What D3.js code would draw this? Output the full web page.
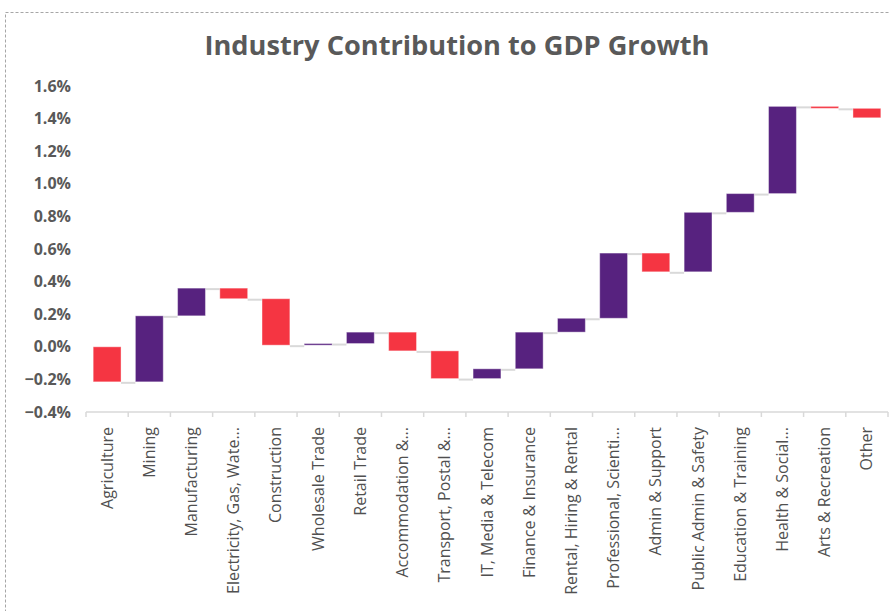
<!DOCTYPE html>
<html>
<head>
<meta charset="utf-8">
<script src="https://cdn.jsdelivr.net/npm/d3@7"></script>
<style>
  body { margin: 0; background: #fff; }
  svg { display: block; font-family: "Open Sans", sans-serif; }
</style>
</head>
<body>
<div id="chart"></div>
<script>
// industries in order of the waterfall
const industries = [
  "Agriculture", "Mining", "Manufacturing", "Electricity, Gas, Wate...",
  "Construction", "Wholesale Trade", "Retail Trade", "Accommodation &...",
  "Transport, Postal &...", "IT, Media & Telecom", "Finance & Insurance",
  "Rental, Hiring & Rental", "Professional, Scienti...", "Admin & Support",
  "Public Admin & Safety", "Education & Training", "Health & Social...",
  "Arts & Recreation", "Other"
];
// contribution of each industry, percentage points
const contributions = [
  -0.215, 0.405, 0.17, -0.065, -0.285, 0.01, 0.07, -0.115,
  -0.17, 0.06, 0.225, 0.085, 0.40, -0.115, 0.365, 0.115, 0.535,
  -0.012, -0.058
];
const yTicks = [-0.4, -0.2, 0, 0.2, 0.4, 0.6, 0.8, 1.0, 1.2, 1.4, 1.6];

const width = 890, height = 611;
const plot = {left: 86, right: 888, top: 86, bottom: 412};
const purple = "#57227f", red = "#f53542", grey = "#595959";

// running totals for the waterfall
let run = 0;
const steps = contributions.map((v, i) => {
  const start = run;
  run += v;
  return {name: industries[i], value: v, start: start, end: run};
});

const svg = d3.select("#chart").append("svg")
  .attr("width", width)
  .attr("height", height);

// dashed frame of the chart area
svg.append("rect")
  .attr("x", 5.5).attr("y", 12.5)
  .attr("width", 900).attr("height", 700)
  .attr("fill", "none")
  .attr("stroke", "#a6a6a6")
  .attr("stroke-dasharray", "3,2");

svg.append("text")
  .attr("x", 457).attr("y", 55)
  .attr("text-anchor", "middle")
  .attr("fill", grey)
  .style("font-size", "27px")
  .style("font-weight", 700)
  .attr("textLength", 505)
  .attr("lengthAdjust", "spacingAndGlyphs")
  .text("Industry Contribution to GDP Growth");

let y = d3.scaleLinear().domain([-0.4, 1.6]).range([plot.bottom, plot.top]);
let cell = d3.scaleBand().domain(industries).range([plot.left, plot.right]).padding(0);
let x = d3.scaleBand().domain(industries).range([plot.left, plot.right])
  .paddingInner(0.34).paddingOuter(0.17);

// y labels
svg.append("g")
  .attr("transform", `translate(${plot.left}, 0)`)
  .call(d3.axisLeft(y).tickValues(yTicks).tickSize(0).tickPadding(15)
    .tickFormat(d => d3.format(".1f")(d) + "%"))
  .call(g => g.select(".domain").remove())
  .selectAll("text")
  .attr("fill", grey)
  .style("font-family", "Open Sans, sans-serif")
  .style("font-size", "16px")
  .style("font-weight", "bold");

// category axis line with ticks at band edges
const axis = svg.append("g");
axis.append("line")
  .attr("x1", plot.left).attr("x2", plot.right)
  .attr("y1", plot.bottom).attr("y2", plot.bottom)
  .attr("stroke", "#d9d9d9").attr("stroke-width", 1.5);
axis.selectAll(".tick").data(industries.concat(["_end"]))
  .enter().append("line")
  .attr("x1", d => d === "_end" ? plot.right : cell(d))
  .attr("x2", d => d === "_end" ? plot.right : cell(d))
  .attr("y1", plot.bottom).attr("y2", plot.bottom + 5)
  .attr("stroke", "#d9d9d9").attr("stroke-width", 1.5);

axis.selectAll(".lbl").data(industries)
  .enter().append("text")
  .attr("transform", d => `translate(${cell(d) + cell.bandwidth() / 2 + 5.5}, ${plot.bottom + 15}) rotate(-90)`)
  .attr("text-anchor", "end")
  .attr("fill", "#505050")
  .style("font-size", "16px")
  .style("font-weight", 500)
  .text(d => d);

// connectors between bars
svg.append("g").selectAll("line")
  .data(steps.slice(0, -1))
  .enter().append("line")
  .attr("x1", d => x(d.name) + x.bandwidth())
  .attr("x2", (d, i) => x(industries[i + 1]))
  .attr("y1", d => y(d.end) + 1)
  .attr("y2", d => y(d.end) + 1)
  .attr("stroke", "#d9d9d9")
  .attr("stroke-width", 2);

// bars
svg.append("g").selectAll("rect")
  .data(steps)
  .enter().append("rect")
  .attr("x", d => x(d.name))
  .attr("width", x.bandwidth())
  .attr("y", d => y(Math.max(d.start, d.end)))
  .attr("height", d => Math.max(1.5, Math.abs(y(d.start) - y(d.end))))
  .attr("fill", d => d.value < 0 ? red : purple)
  .attr("stroke", "#fff")
  .attr("stroke-opacity", 0.4)
  .attr("stroke-width", 1);
</script>
</body>
</html>
